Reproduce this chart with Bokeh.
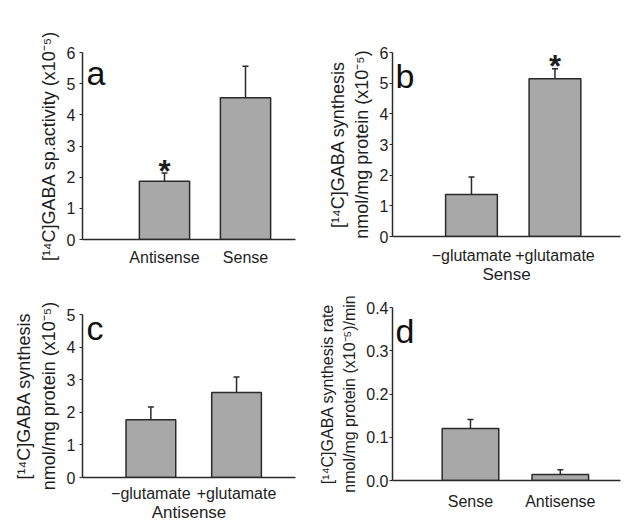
import math
from bokeh.plotting import figure
from bokeh.layouts import row, column
from bokeh.models import (Range1d, FixedTicker, Whisker, TeeHead, ColumnDataSource,
                          Label, Title, NumeralTickFormatter)
from bokeh.core.properties import value
from bokeh.embed import file_html
from bokeh.resources import INLINE

# ---------------- data ----------------
a_cats = ["Antisense", "Sense"]
a_vals = [1.87, 4.55]
a_errs = [0.26, 1.01]
a_sig = ["*", ""]
a_yticks = [0, 1, 2, 3, 4, 5, 6]

b_cats = ["\u2212glutamate", "+glutamate"]
b_vals = [1.37, 5.14]
b_errs = [0.57, 0.33]
b_sig = ["", "*"]
b_yticks = [0, 1, 2, 3, 4, 5, 6]
b_title = "Sense"

c_cats = ["\u2212glutamate", "+glutamate"]
c_vals = [1.77, 2.61]
c_errs = [0.39, 0.47]
c_sig = ["", ""]
c_yticks = [0, 1, 2, 3, 4, 5]
c_title = "Antisense"

d_cats = ["Sense", "Antisense"]
d_vals = [0.120, 0.014]
d_errs = [0.021, 0.011]
d_sig = ["", ""]
d_yticks = [0.0, 0.1, 0.2, 0.3, 0.4]

lab_a = ["[\u00b9\u2074C]GABA sp.activity (x10\u207b\u2075)"]
lab_bc = ["[\u00b9\u2074C]GABA synthesis", "nmol/mg protein (x10\u207b\u2075)"]
lab_d = ["[\u00b9\u2074C]GABA synthesis rate", "nmol/mg protein (x10\u207b\u2075)/min"]

FONT = "Liberation Sans"
TXT = "#1e1e1e"
LINE = "#2a2a2a"
FILL = "#a8a8a8"


def panel(cats, vals, errs, sig, yticks, ylabels, lab_so, lab_dy, lab_fs, letter, let_dx, let_dy,
          W, H, bl, br, bt, bb, xs, xe, bw, tick_stand, x_stand, xtitle=None, yfmt=None):
    xpos = [i + 1 for i in range(len(cats))]
    upper = [v + e for v, e in zip(vals, errs)]
    src = ColumnDataSource(dict(x=xpos, top=vals, upper=upper, sig=sig))
    ymax = yticks[-1]
    p = figure(width=W, height=H, x_range=Range1d(xs, xe), y_range=Range1d(0, ymax),
               output_backend="svg", toolbar_location=None,
               min_border_left=bl, min_border_right=br, min_border_top=bt, min_border_bottom=bb)
    p.outline_line_color = None
    p.grid.visible = False
    p.background_fill_color = "white"
    p.border_fill_color = "white"

    p.vbar(x="x", top="top", width=bw, source=src, fill_color=FILL,
           line_color=LINE, line_width=1.5)
    p.add_layout(Whisker(source=src, base="x", upper="upper", lower="top",
                         dimension="height", line_color=LINE, line_width=1.5,
                         upper_head=TeeHead(size=6, line_color=LINE, line_width=1.5),
                         lower_head=None))
    p.text(x="x", y="upper", text="sig", source=src, text_font=value(FONT),
           text_font_size="31px", text_font_style="bold", text_color=TXT,
           text_align="center", text_baseline="alphabetic", y_offset=-2)

    # y axis
    ya = p.yaxis[0]
    ya.ticker = FixedTicker(ticks=yticks)
    if yfmt:
        ya.formatter = NumeralTickFormatter(format=yfmt)
    ya.minor_tick_line_color = None
    ya.major_tick_out = 3
    ya.major_tick_in = 0
    ya.major_tick_line_color = LINE
    ya.axis_line_color = LINE
    ya.axis_line_width = 1.5
    ya.major_label_text_font = FONT
    ya.major_label_text_font_size = "16px"
    ya.major_label_text_color = TXT
    ya.major_label_standoff = tick_stand

    # x axis
    xa = p.xaxis[0]
    xa.ticker = FixedTicker(ticks=xpos)
    xa.major_label_overrides = {x: c for x, c in zip(xpos, cats)}
    xa.minor_tick_line_color = None
    xa.major_tick_line_color = None
    xa.major_tick_out = 0
    xa.major_tick_in = 0
    xa.axis_line_color = LINE
    xa.axis_line_width = 1.5
    xa.major_label_text_font = FONT
    xa.major_label_text_font_size = "16px"
    xa.major_label_text_color = TXT
    xa.major_label_standoff = x_stand
    if xtitle:
        xa.axis_label = xtitle
        xa.axis_label_text_font = FONT
        xa.axis_label_text_font_size = "17px"
        xa.axis_label_text_font_style = "normal"
        xa.axis_label_text_color = TXT
        xa.axis_label_standoff = -2

    # y-axis title lines (closest to the axis first)
    for t, so, dy in reversed(list(zip(ylabels, lab_so, lab_dy))):
        p.add_layout(Title(text=t, align="center", offset=dy, standoff=so,
                           text_font=FONT, text_font_size=lab_fs, text_font_style="normal",
                           text_color=TXT), "left")
    # panel letter
    p.add_layout(Label(x=xs, y=ymax, x_offset=let_dx, y_offset=let_dy, text=letter,
                       text_align="left", text_baseline="alphabetic",
                       text_font=FONT, text_font_size="34px", text_color="#111111"))
    return p


pa = panel(a_cats, a_vals, a_errs, a_sig, a_yticks, lab_a, [10], [19], "18px", "a", 4, -20,
           312, 268, 82, 17, 52, 27, -0.012, 2.617, 0.62, 4, 9)
pb = panel(b_cats, b_vals, b_errs, b_sig, b_yticks, lab_bc, [-6, 10], [5, 8], "18px", "b", 3, -23,
           312, 286, 80, 4, 52, 45, 0.054, 2.785, 0.62, 1, 10, xtitle=b_title)
pc = panel(c_cats, c_vals, c_errs, c_sig, c_yticks, lab_bc, [-5, 10], [7, 11], "18px", "c", 4, -13,
           312, 256, 82, 15, 46, 44, 0.202, 2.688, 0.58, 4, 7, xtitle=c_title)
pd = panel(d_cats, d_vals, d_errs, d_sig, d_yticks, lab_d, [-4, 11], [5, 3], "16px", "d", 3, -23,
           312, 238, 77, 4, 21, 44, 0.132, 2.670, 0.63, 1, 12, yfmt="0.0")

layout = row(column(pa, pc, spacing=0), column(pb, pd, spacing=0), spacing=0)

open("out.html", "w").write(file_html(layout, INLINE))
